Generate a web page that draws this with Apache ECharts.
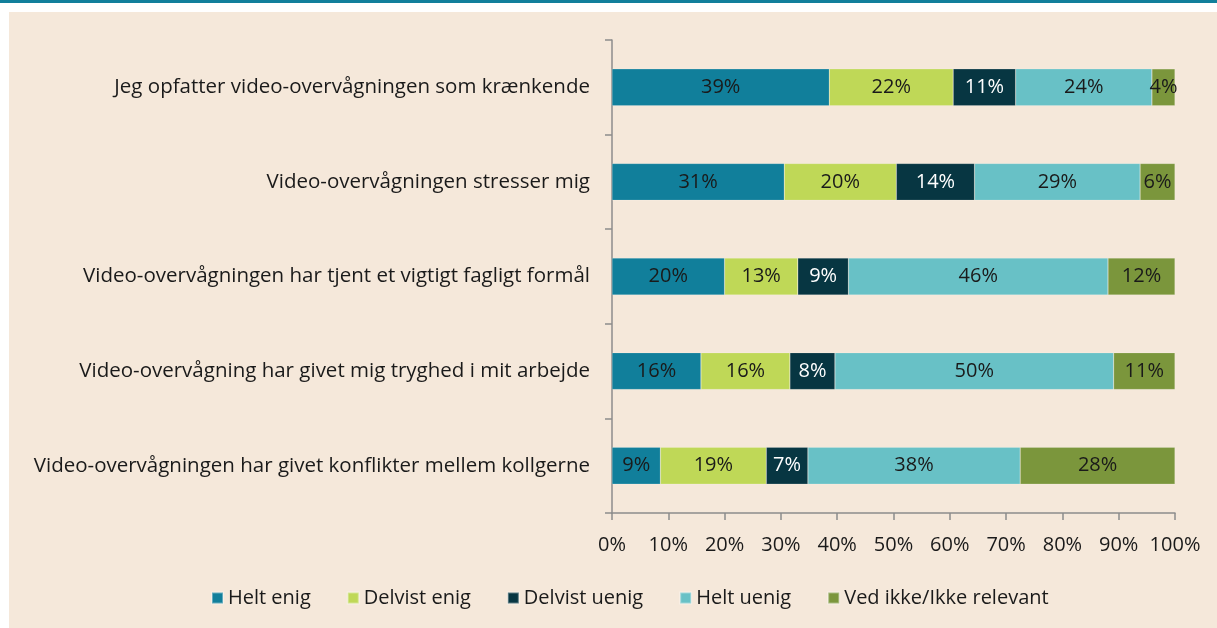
<!DOCTYPE html>
<html>
<head>
<meta charset="utf-8">
<script src="https://cdn.jsdelivr.net/npm/echarts@6/dist/echarts.min.js"></script>
<style>
    html, body { margin: 0; padding: 0; background: #ffffff; }
    .top-line { position: absolute; left: 0; top: 0; width: 1217px; height: 3px; background: #117f9b; }
    .panel { position: absolute; left: 9px; top: 12px; width: 1208px; height: 616px; background: #f5e8da; }
    #chart { position: absolute; left: 0; top: 0; width: 1217px; height: 628px; }
</style>
</head>
<body>
<div class="top-line"></div>
<div class="panel"></div>
<div id="chart"></div>
<script>
    var categories = [
        'Jeg opfatter video-overvågningen som krænkende',
        'Video-overvågningen stresser mig',
        'Video-overvågningen har tjent et vigtigt fagligt formål',
        'Video-overvågning har givet mig tryghed i mit arbejde',
        'Video-overvågningen har givet konflikter mellem kollgerne'
    ]
    var seriesNames = ['Helt enig', 'Delvist enig', 'Delvist uenig', 'Helt uenig', 'Ved ikke/Ikke relevant']
    var heltEnig = [38.6, 30.6, 20.0, 15.8, 8.6]
    var delvistEnig = [22.0, 19.9, 13.0, 15.8, 18.8]
    var delvistUenig = [11.1, 13.9, 9.0, 8.0, 7.4]
    var heltUenig = [24.2, 29.4, 46.1, 49.5, 37.7]
    var vedIkke = [4.1, 6.2, 11.9, 10.9, 27.5]
    var xTicks = [0, 10, 20, 30, 40, 50, 60, 70, 80, 90, 100]

    var colors = ['#117f9b', '#bfd857', '#073642', '#68c1c6', '#7b963c']
    var labelColors = ['#1a1a1a', '#1a1a1a', '#ffffff', '#1a1a1a', '#1a1a1a']
    var values = [heltEnig, delvistEnig, delvistUenig, heltUenig, vedIkke]
    var font = '"Open Sans", "Noto Sans", sans-serif'

    var myChart = echarts.init(document.getElementById('chart'))

    var series = seriesNames.map(function(name, i) {
        return {
            name: name,
            type: 'bar',
            stack: 'total',
            barWidth: '39%',
            data: values[i],
            itemStyle: {
                color: colors[i],
                borderColor: 'rgba(255,255,255,0.35)',
                borderWidth: 0.5
            },
            label: {
                show: true,
                position: 'inside',
                color: labelColors[i],
                fontFamily: font,
                fontSize: 20,
                formatter: function(p) {
                    return Math.round(p.value) + '%'
                }
            }
        }
    })

    var option = {
        animation: false,
        color: colors,
        grid: {
            left: 612,
            right: 42,
            top: 40,
            bottom: 115,
            containLabel: false
        },
        legend: {
            data: seriesNames,
            bottom: 15,
            left: 206,
            icon: 'rect',
            itemWidth: 11,
            itemHeight: 11,
            itemGap: 36,
            textStyle: {
                fontFamily: font,
                fontSize: 20,
                color: '#1a1a1a'
            }
        },
        xAxis: {
            type: 'value',
            min: 0,
            max: 100,
            interval: 10,
            splitLine: { show: false },
            axisLine: {
                show: true,
                lineStyle: { color: '#8c8c8c', width: 1.5 }
            },
            axisTick: {
                show: true,
                length: 7,
                lineStyle: { color: '#8c8c8c', width: 1.5 }
            },
            axisLabel: {
                fontFamily: font,
                fontSize: 20,
                color: '#1a1a1a',
                margin: 22,
                formatter: function(v) {
                    return xTicks.indexOf(v) >= 0 ? v + '%' : ''
                }
            }
        },
        yAxis: {
            type: 'category',
            inverse: true,
            data: categories,
            axisLine: {
                show: true,
                lineStyle: { color: '#8c8c8c', width: 1.5 }
            },
            axisTick: {
                show: true,
                length: 7,
                lineStyle: { color: '#8c8c8c', width: 1.5 }
            },
            axisLabel: {
                fontFamily: font,
                fontSize: 20.5,
                color: '#1a1a1a',
                margin: 22
            }
        },
        series: series
    }

    myChart.setOption(option)
</script>
</body>
</html>
